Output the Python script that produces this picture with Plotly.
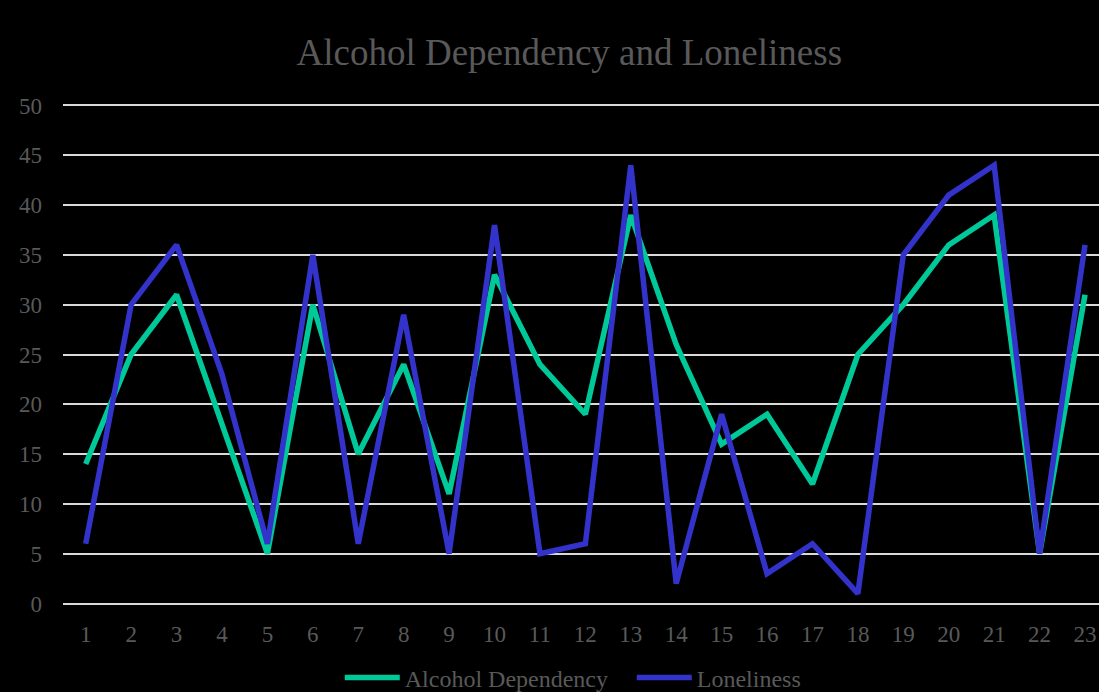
import plotly.graph_objects as go

categories = list(range(1, 24))
alcohol = [14, 25, 31, 18, 5, 30, 15, 24, 11, 33, 24, 19, 39, 26, 16, 19, 12, 25, 30, 36, 39, 5, 31]
loneliness = [6, 30, 36, 23, 6, 35, 6, 29, 5, 38, 5, 6, 44, 2, 19, 3, 6, 1, 35, 41, 44, 5, 36]
y_ticks = list(range(0, 51, 5))

FONT = "Liberation Serif, Times New Roman, serif"
GRAY = "#595959"

fig = go.Figure()
fig.add_trace(go.Scatter(x=categories, y=alcohol, mode="lines", name="Alcohol Dependency",
                         line=dict(color="#00C999", width=5.5, shape="linear")))
fig.add_trace(go.Scatter(x=categories, y=loneliness, mode="lines", name="Loneliness",
                         line=dict(color="#3333CC", width=5.5, shape="linear")))

fig.update_layout(
    width=1099, height=692,
    paper_bgcolor="black", plot_bgcolor="black",
    margin=dict(l=63, r=0, t=104, b=87, autoexpand=False),
    title=dict(text="Alcohol Dependency and Loneliness", x=0.518, xanchor="center",
               y=1 - 52 / 692, yanchor="middle",
               font=dict(family=FONT, size=37, color=GRAY)),
    font=dict(family=FONT, color=GRAY),
    showlegend=True,
    legend=dict(orientation="h", x=0.549, xanchor="center", y=-(678 - 605) / 501, yanchor="middle",
                font=dict(family=FONT, size=24, color=GRAY), itemwidth=55,
                entrywidth=222, entrywidthmode="pixels",
                bgcolor="rgba(0,0,0,0)", traceorder="normal"),
)
fig.update_xaxes(range=[0.5, 23.308], tickmode="array", tickvals=categories,
                 ticktext=[str(c) for c in categories], showgrid=False, zeroline=False,
                 showline=False, ticks="", ticklabelstandoff=13,
                 tickfont=dict(family=FONT, size=23, color=GRAY))
fig.update_yaxes(range=[-0.15, 50.15], tickmode="array", tickvals=y_ticks,
                 showgrid=True, gridcolor="#D9D9D9", gridwidth=2, zeroline=False,
                 showline=False, ticks="", ticklabelstandoff=20,
                 tickfont=dict(family=FONT, size=23, color=GRAY))

fig.write_html("out.html")
